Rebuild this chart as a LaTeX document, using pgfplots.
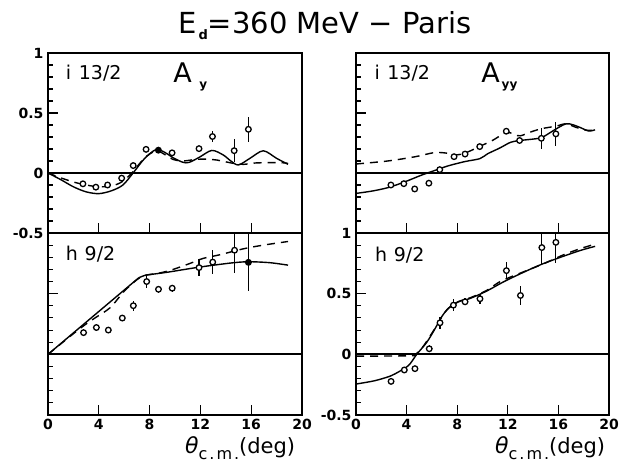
\documentclass[border=0pt]{standalone}
\usepackage{pgfplots}
\pgfplotsset{compat=1.18}
\usepackage{pgfplotstable}
\usepackage{fontspec}
\setmainfont{DejaVu Sans}

\pgfplotstableread{
x y e
2.75 -0.090 0.01
3.77 -0.118 0.01
4.69 -0.100 0.01
5.80 -0.043 0.01
6.71 0.062 0.01
7.72 0.197 0.015
9.77 0.168 0.015
11.89 0.203 0.02
12.95 0.304 0.046
14.66 0.186 0.095
15.78 0.364 0.104
}\tabAy
\pgfplotstableread{
x y e
2.76 -0.100 0.01
3.78 -0.089 0.01
4.64 -0.133 0.01
5.76 -0.085 0.01
6.62 0.028 0.01
7.75 0.136 0.01
8.62 0.158 0.01
9.78 0.220 0.01
11.88 0.348 0.02
12.93 0.271 0.03
14.65 0.289 0.09
15.80 0.326 0.10
}\tabAyy
\pgfplotstableread{
x y e
2.80 0.179 0.01
3.81 0.221 0.01
4.75 0.200 0.01
5.85 0.299 0.02
6.72 0.401 0.04
7.77 0.600 0.055
8.70 0.536 0.03
9.78 0.545 0.03
11.89 0.715 0.07
12.97 0.760 0.096
14.69 0.858 0.19
}\tabHl
\pgfplotstableread{
x y e
2.77 -0.223 0.01
3.82 -0.129 0.01
4.66 -0.118 0.025
5.79 0.046 0.03
6.64 0.260 0.05
7.70 0.405 0.05
8.62 0.433 0.03
9.80 0.458 0.04
11.89 0.690 0.07
13.00 0.485 0.08
14.69 0.880 0.14
15.80 0.923 0.17
}\tabHr

\pgfplotsset{
 panel/.style={
  scale only axis, anchor=south west,
  xmin=0, xmax=20, ymin=-0.5, ymax=1,
  xtick={0,4,...,20}, ytick={-0.5,0,0.5,1},
  minor y tick num=4,
  tick align=inside, xtick pos=lower, ytick pos=left,
  major tick length=10pt, minor tick length=5pt,
  axis line style={line width=1.3pt},
  tick style={black, line width=1.1pt},
  tick label style={font=\fontsize{14}{14}\selectfont\bfseries},
  /pgf/number format/assume math mode=true,
  /pgf/number format/fixed,
  yticklabel style={xshift=-1pt},
  xticklabel style={yshift=-1pt},
 },
 zero/.style={black, line width=1.7pt, no marks},
 sol/.style={black, line width=1.4pt, no marks, smooth, tension=0.5},
 dsh/.style={black, line width=1.4pt, no marks, smooth, tension=0.5, dash pattern=on 8pt off 6pt},
 pts/.style={black, only marks, mark=*, mark size=2.8pt, mark options={fill=white, line width=1.3pt, solid},
   error bars/.cd, y dir=both, y explicit, error bar style={line width=1.2pt, solid}, error mark=none},
 ptf/.style={black, only marks, mark=*, mark size=2.8pt, mark options={fill=black, line width=1.3pt, solid},
   error bars/.cd, y dir=both, y explicit, error bar style={line width=1.2pt, solid}, error mark=none},
}
\tikzset{
 lab/.style={anchor=base west, inner sep=0pt, font=\fontsize{19}{19}\selectfont},
 bigA/.style={anchor=base west, inner sep=0pt, font=\fontsize{27}{27}\selectfont},
 subA/.style={anchor=base west, inner sep=0pt, font=\fontsize{12}{12}\selectfont\bfseries},
}
\newcommand\thcm{{\fontsize{22}{22}\selectfont\textit{θ}\raisebox{-6pt}{\fontsize{16}{16}\selectfont c\kern2pt.\kern2pt m\kern2pt.}\fontsize{21}{21}\selectfont(deg)}}

\begin{document}
\begin{tikzpicture}
\useasboundingbox (0,0) rectangle (620pt,471pt);

% top-left: A_y, i13/2
\begin{axis}[panel, at={(48pt,238pt)}, width=254pt, height=180pt, xticklabels={}]
 \addplot[zero] coordinates {(0,0) (20,0)};
 \addplot[sol] coordinates {(0,0) (1,-0.055) (2,-0.115) (3,-0.157) (4,-0.172) (5,-0.148) (5.9,-0.1) (6.7,0.0) (7.6,0.12) (8.5,0.195) (9.2,0.172) (9.8,0.13) (10.6,0.09) (11.1,0.088) (11.9,0.13) (12.9,0.188) (13.8,0.15) (14.4,0.1) (15.0,0.067) (15.9,0.122) (16.95,0.185) (18.0,0.122) (18.9,0.072)};
 \addplot[dsh] coordinates {(0,0) (1,-0.04) (2,-0.075) (3,-0.1) (4,-0.115) (5,-0.108) (5.8,-0.075) (6.6,0.0) (7.6,0.125) (8.5,0.185) (9.1,0.16) (9.8,0.115) (10.6,0.1) (11.7,0.114) (12.5,0.115) (13.3,0.108) (14.6,0.08) (15.4,0.072) (16.4,0.084) (18.3,0.086) (18.9,0.08)};
 \addplot[pts] table[x=x, y=y, y error=e] {\tabAy};
 \addplot[ptf] coordinates {(8.69,0.19)};
 \node[lab] at (axis cs:1.4,0.775) {i\hspace{0.4em}13/2};
 \node[bigA] at (axis cs:9.85,0.752) {A};
 \node[subA] at (axis cs:11.9,0.70) {y};
\end{axis}

% top-right: A_yy, i13/2
\begin{axis}[panel, at={(356pt,238pt)}, width=253pt, height=180pt, xticklabels={}, yticklabels={}]
 \addplot[zero] coordinates {(0,0) (20,0)};
 \addplot[sol] coordinates {(0,-0.17) (1.3,-0.15) (2.6,-0.12) (3.9,-0.072) (5.2,-0.017) (6.2,0.02) (7.3,0.06) (8.6,0.095) (9.8,0.12) (10.4,0.16) (11.4,0.21) (12.2,0.255) (12.9,0.27) (14.5,0.29) (15.1,0.32) (15.7,0.36) (16.6,0.41) (17.2,0.40) (17.7,0.38) (18.4,0.35) (18.9,0.36)};
 \addplot[dsh] coordinates {(0,0.075) (2.5,0.10) (4.7,0.136) (6.2,0.17) (7.2,0.165) (7.8,0.15) (8.6,0.165) (9.75,0.22) (10.85,0.275) (11.9,0.34) (12.5,0.32) (13.0,0.31) (13.9,0.345) (14.7,0.37) (15.8,0.39) (16.6,0.41) (17.4,0.38) (18.3,0.355) (18.9,0.36)};
 \addplot[pts] table[x=x, y=y, y error=e] {\tabAyy};
 \node[lab] at (axis cs:1.45,0.78) {i\hspace{0.4em}13/2};
 \node[bigA] at (axis cs:9.9,0.752) {A};
 \node[subA] at (axis cs:11.5,0.70) {yy};
\end{axis}

% bottom-left: h9/2 (A_y)
\begin{axis}[panel, at={(48pt,56pt)}, width=254pt, height=182pt, yticklabels={}]
 \addplot[zero] coordinates {(0,0) (20,0)};
 \addplot[black, line width=1.4pt, no marks] coordinates {(0,0) (7.1,0.627)};
 \addplot[sol] coordinates {(7.1,0.627) (7.6,0.65) (8.8,0.668) (9.6,0.68) (12.0,0.72) (14.6,0.755) (15.9,0.763) (17.5,0.755) (18.9,0.735)};
 \addplot[dsh] coordinates {(0,0) (2,0.17) (3,0.25) (3.7,0.30) (4.9,0.385) (6.0,0.52) (7.0,0.615) (7.6,0.65) (8.5,0.665) (9.2,0.68) (10.0,0.705) (11.2,0.75) (12.2,0.79) (13.5,0.82) (15.4,0.87) (16.95,0.9) (18.9,0.93)};
 \addplot[pts] table[x=x, y=y, y error=e] {\tabHl};
 \addplot[ptf] coordinates {(15.78,0.758) +- (0,0.24)};
 \node[lab] at (axis cs:1.4,0.77) {h\hspace{0.35em}9/2};
\end{axis}

% bottom-right: h9/2 (A_yy)
\begin{axis}[panel, at={(356pt,56pt)}, width=253pt, height=182pt]
 \addplot[zero] coordinates {(0,0) (20,0)};
 \addplot[sol] coordinates {(0,-0.245) (1.5,-0.217) (2.7,-0.18) (3.1,-0.16) (4.14,-0.093) (4.8,0.0) (5.6,0.1) (6.25,0.212) (6.77,0.309) (7.3,0.378) (8.1,0.433) (9.0,0.46) (10.3,0.52) (11.9,0.61) (14.3,0.726) (15.9,0.79) (17.7,0.855) (18.9,0.89)};
 \addplot[dsh] coordinates {(0,-0.015) (4.3,-0.012) (4.7,0.0) (5.2,0.05) (5.6,0.11) (6.25,0.215) (6.8,0.31) (7.3,0.38) (8.1,0.435) (9.0,0.465) (10.3,0.525) (11.4,0.6) (13.0,0.67) (14.8,0.745) (16.4,0.82) (17.7,0.87) (18.95,0.91)};
 \addplot[pts] table[x=x, y=y, y error=e] {\tabHr};
 \node[lab] at (axis cs:1.5,0.767) {h\hspace{0.35em}9/2};
\end{axis}

% title and axis labels
\node[anchor=base west, inner sep=0pt] at (178pt,437pt) {\fontsize{29}{29}\selectfont E\raisebox{-6pt}{\fontsize{13}{13}\selectfont\bfseries\,d}=360 MeV − Paris};
\node[anchor=base west, inner sep=0pt] at (185pt,18pt) {\thcm};
\node[anchor=base west, inner sep=0pt] at (495pt,18pt) {\thcm};
\end{tikzpicture}
\end{document}
